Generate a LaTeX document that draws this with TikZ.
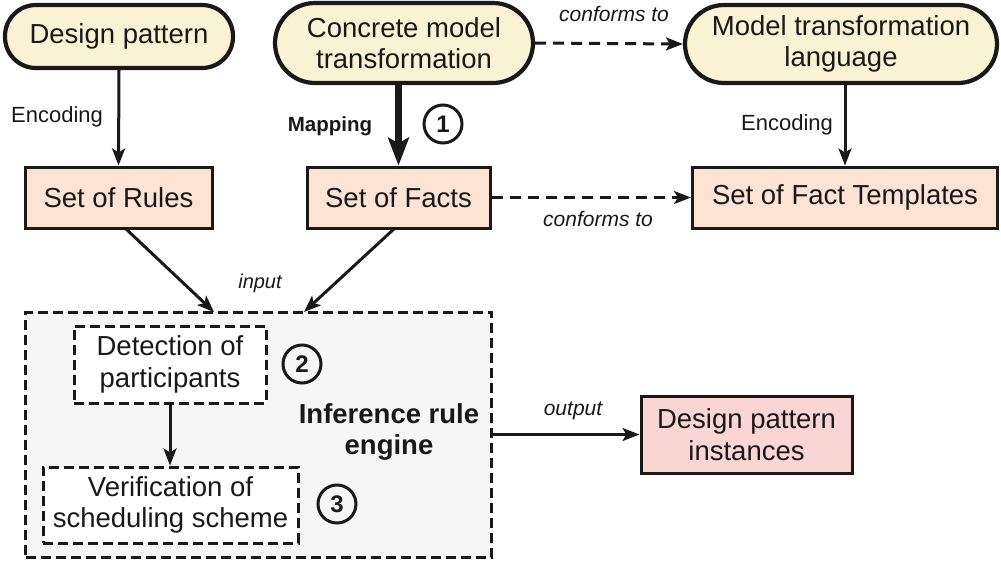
\documentclass[tikz,border=0pt]{standalone}
\usepackage{fontspec}
\setmainfont{Liberation Sans}
\usetikzlibrary{arrows.meta}
\definecolor{cream}{RGB}{250,242,212}
\definecolor{peach}{RGB}{252,227,212}
\definecolor{pinkbox}{RGB}{249,213,211}
\definecolor{enginefill}{RGB}{246,246,246}
\begin{document}
\begin{tikzpicture}[x=1pt,y=-1pt,
  every node/.style={font=\fontsize{27.5}{31.5}\selectfont, align=center, inner sep=0pt, text=black!90},
  pill/.style={draw=black!90, line width=4.2pt, fill=cream},
  boxnode/.style={draw=black!90, line width=3pt, fill=peach},
  dbox/.style={draw=black!90, line width=3pt, dash pattern=on 10pt off 5pt, fill=white},
  lbl/.style={font=\fontsize{22}{26}\selectfont},
  ilbl/.style={font=\fontsize{21}{25}\selectfont\itshape},
  num/.style={draw=black!90, line width=3pt, circle, minimum size=38pt, font=\fontsize{24}{24}\selectfont\bfseries},
  conn/.style={draw=black!90, line width=3pt, -{Stealth[length=17pt,width=13pt,inset=4pt]}},
  dconn/.style={conn, dash pattern=on 11pt off 7pt}
]
\useasboundingbox (0,0) rectangle (1001,563);

% engine box
\node[draw=black!90, line width=3pt, dash pattern=on 10pt off 5pt, fill=enginefill,
      minimum width=466pt, minimum height=245pt] (eng) at (258.5,434.5) {};

% top pills
\node[pill, rounded corners=31pt, minimum width=228pt, minimum height=63pt] (dp) at (119,36.5) {Design pattern};
\node[pill, rounded corners=40pt, minimum width=258pt, minimum height=80pt] (cmt) at (404,43) {Concrete model\\transformation};
\node[pill, rounded corners=39pt, minimum width=312pt, minimum height=78pt] (mtl) at (841,44) {Model transformation\\language};

% second row
\node[boxnode, minimum width=187pt, minimum height=61pt] (rules) at (118.5,197.5) {Set of Rules};
\node[boxnode, minimum width=183pt, minimum height=61pt] (facts) at (398.5,197.5) {Set of Facts};
\node[boxnode, minimum width=305pt, minimum height=61pt] (ftpl) at (845,197.5) {Set of Fact Templates};

% inner boxes
\node[dbox, minimum width=192pt, minimum height=77pt] (det) at (170,364.5) {Detection of\\participants};
\node[dbox, minimum width=255pt, minimum height=76pt] (ver) at (170.5,505) {Verification of\\scheduling scheme};
\node[font=\fontsize{27.5}{31.5}\selectfont\bfseries] (engl) at (389,432) {Inference rule\\engine};

% output box
\node[draw=black!90, line width=3pt, fill=pinkbox, minimum width=211pt, minimum height=77pt] (dpi) at (746.5,434.5) {Design pattern\\instances};

% numbers
\node[num] (n1) at (443,124) {1};
\node[num] (n2) at (302,364) {2};
\node[num] (n3) at (337,504) {3};

% connectors
\draw[conn] (dp.south) -- (rules.north);
\node[lbl] (enc1) at (57,117) {Encoding};

\draw[draw=black!90, line width=6.5pt, -{Stealth[length=28pt,width=21pt,inset=6pt]}] (cmt.south -| facts.north) -- (facts.north);
\node[font=\fontsize{20.5}{24}\selectfont\bfseries] (map) at (330,126) {Mapping};

\draw[dconn] (cmt.east) -- (mtl.west);
\node[ilbl] (cf1) at (614,14) {conforms to};

\draw[conn] (mtl.south -| ftpl.north) -- (ftpl.north);
\node[lbl] (enc2) at (787,125) {Encoding};

\draw[dconn] (facts.east) -- (ftpl.west);
\node[ilbl] (cf2) at (598,219) {conforms to};

\coordinate (in1) at (214,312);
\coordinate (in2) at (304,312);
\coordinate (r1) at (125,228);
\coordinate (f1) at (395,228);
\draw[conn] (r1) -- (in1);
\draw[conn] (f1) -- (in2);
\node[ilbl, font=\fontsize{20}{24}\selectfont\itshape] (inp) at (260,283) {input};

\draw[conn] (det.south) -- (det.south |- ver.north);

\draw[conn] (eng.east |- dpi.west) -- (dpi.west);
\node[ilbl] (outl) at (573,411) {output};
\end{tikzpicture}
\end{document}
